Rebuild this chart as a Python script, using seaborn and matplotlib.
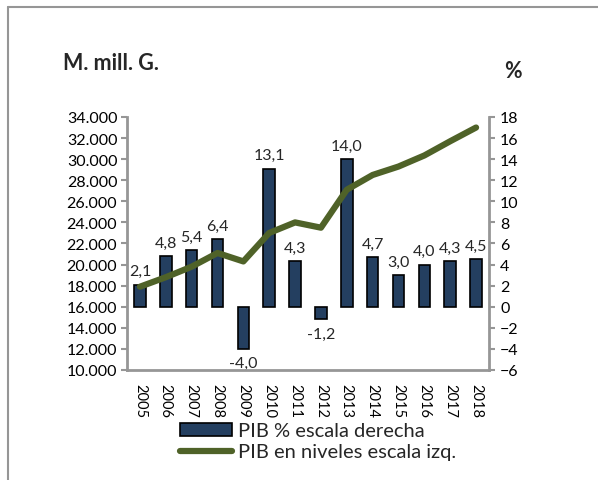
import numpy as np
import pandas as pd
import matplotlib
matplotlib.use("Agg")
import matplotlib.pyplot as plt
import seaborn as sns
from matplotlib.patches import Rectangle
from matplotlib.lines import Line2D
from matplotlib.ticker import FuncFormatter

years = [str(y) for y in range(2005, 2019)]
pib_pct = [2.1, 4.8, 5.4, 6.4, -4.0, 13.1, 4.3, -1.2, 14.0, 4.7, 3.0, 4.0, 4.3, 4.5]
pib_niveles = [17900, 18800, 19800, 21100, 20300, 23000, 24000, 23500,
               27100, 28500, 29300, 30350, 31700, 33000]

bar_label = "PIB % escala derecha"
line_label = "PIB en niveles escala izq."

df = pd.DataFrame({"anio": years, "pct": pib_pct, "niveles": pib_niveles})
df["pos"] = np.arange(len(df))

sns.set_style("white")
plt.rcParams["font.family"] = ["Lato", "DejaVu Sans"]

bar_color = "#243f60"
line_color = "#4f6228"
spine_gray = "#969696"

fig = plt.figure(figsize=(5.98, 4.81), dpi=100)
ax1 = fig.add_axes([0.2124, 0.2287, 0.6053, 0.526])
ax2 = ax1.twinx()

# bars on the right axis
sns.barplot(data=df, x="anio", y="pct", ax=ax2, color=bar_color,
            width=0.45, edgecolor="black", linewidth=1.2, saturation=1)
ax2.set_ylim(-6, 18)
ax2.set_yticks(range(-6, 19, 2))
for p, v in zip(df["pos"], df["pct"]):
    txt = f"{v:.1f}".replace(".", ",")
    if v >= 0:
        ax2.text(p, v + 0.6, txt, ha="center", va="bottom", fontsize=11.5)
    else:
        ax2.text(p, v - 0.7, txt, ha="center", va="top", fontsize=11.5)

# line on the left axis, drawn above the bars
sns.lineplot(data=df, x="pos", y="niveles", ax=ax1, color=line_color, linewidth=4.5)
ax1.set_ylim(10000, 34000)
ax1.set_yticks(range(10000, 34001, 2000))
ax1.yaxis.set_major_formatter(FuncFormatter(lambda v, _: f"{int(v):,}".replace(",", ".")))
ax1.set_zorder(ax2.get_zorder() + 1)
ax1.patch.set_visible(False)

ax1.set_xlim(-0.5, len(years) - 0.5)
ax2.set_xlim(-0.5, len(years) - 0.5)
ax1.set_xticks(df["pos"])
ax1.set_xticklabels(years, rotation=-90)

for ax in (ax1, ax2):
    ax.set_xlabel("")
    ax.set_ylabel("")
    for s in ax.spines.values():
        s.set_visible(False)
    ax.tick_params(labelsize=11.5, colors="black")

ax1.spines["left"].set_visible(True)
ax1.spines["bottom"].set_visible(True)
ax2.spines["right"].set_visible(True)
for s in (ax1.spines["left"], ax1.spines["bottom"], ax2.spines["right"]):
    s.set_color(spine_gray)
    s.set_linewidth(2)
ax1.tick_params(axis="y", which="major", left=True, length=4, width=1.5, color=spine_gray, pad=3)
ax1.tick_params(axis="x", bottom=False, pad=6, labelsize=10.5)
ax2.tick_params(axis="y", which="major", right=True, length=4, width=1.5, color=spine_gray, pad=4)
ax2.tick_params(axis="x", bottom=False, labelbottom=False)

fig.text(0.105, 0.855, "M. mill. G.", fontsize=15.5, fontweight="bold", ha="left", va="baseline")
fig.text(0.843, 0.838, "%", fontsize=15.5, fontweight="bold", ha="left", va="baseline")

handles = [Rectangle((0, 0), 1, 1, facecolor=bar_color, edgecolor="black", linewidth=1.2),
           Line2D([0], [0], color=line_color, linewidth=4.5)]
fig.legend(handles, [bar_label, line_label], loc="upper left",
           bbox_to_anchor=(0.301, 0.12), bbox_transform=fig.transFigure,
           frameon=False, fontsize=14.5, handlelength=2.6, handleheight=0.6,
           handletextpad=0.3, labelspacing=0.2, borderaxespad=0, borderpad=0)

# outer frame (top and left only)
fig.add_artist(Line2D([0.0134, 0.0134], [0, 0.983], color=spine_gray, linewidth=1.5,
                      transform=fig.transFigure))
fig.add_artist(Line2D([0.0134, 1.0], [0.983, 0.983], color=spine_gray, linewidth=1.5,
                      transform=fig.transFigure))

fig.savefig("out.png", dpi=100)
